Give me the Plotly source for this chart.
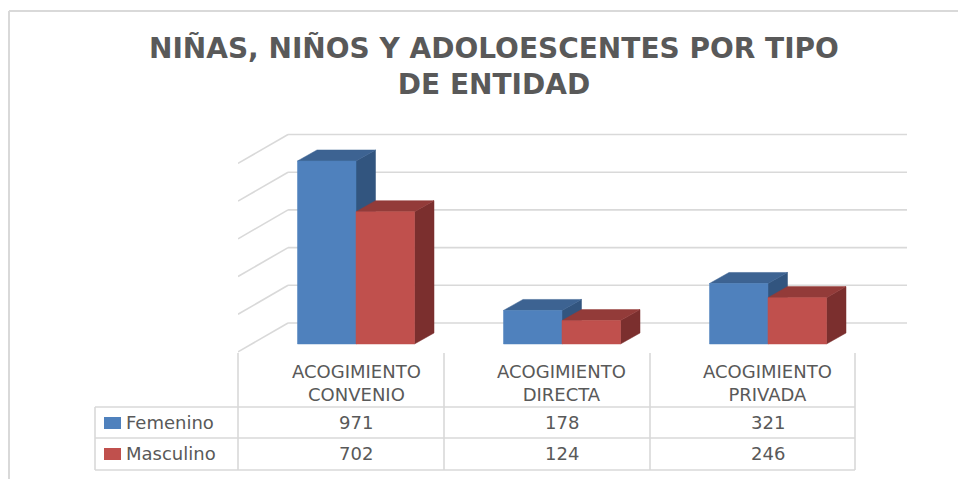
import plotly.graph_objects as go

# ---------------- data ----------------
categories = ["ACOGIMIENTO<br>CONVENIO", "ACOGIMIENTO<br>DIRECTA", "ACOGIMIENTO<br>PRIVADA"]
series_names = ["Femenino", "Masculino"]
femenino = [971, 178, 321]
masculino = [702, 124, 246]
grid_values = [0, 200, 400, 600, 800, 1000]
title_text = "NIÑAS, NIÑOS Y ADOLOESCENTES POR TIPO<br>DE ENTIDAD"

# ---------------- style ----------------
W, H = 966, 479
OFF = 8                      # page body margin
FW, FH = W - OFF, H - OFF    # figure size
front_cols = ["#4F81BD", "#C0504D"]
top_cols = ["#3D6392", "#933B39"]
side_cols = ["#32557F", "#7B2F2E"]
grid_col = "#D9D9D9"
text_col = "#595959"
TFONT = "DejaVu Sans"
FONT = "DejaVu Sans"

bar_w = 0.284          # bar width in category units
dx = 0.0947            # depth offset (x, category units)
dy = 58.4              # depth offset (y, value units)
wall_dx = 0.243        # wall depth in category units
wall_back = 111.4      # back wall baseline in value units
wall_front = -42.0     # front edge of side wall in value units
x_left, x_right = -0.5728, 2.6748
y_lo, y_hi = -58.4, 1188.4

fig = go.Figure()

for g in grid_values:
    fig.add_trace(go.Scatter(x=[x_left + wall_dx, x_right], y=[wall_back + g, wall_back + g],
                             mode="lines", line=dict(color=grid_col, width=1.6),
                             hoverinfo="skip", showlegend=False))
    fig.add_trace(go.Scatter(x=[x_left, x_left + wall_dx], y=[wall_front + g, wall_back + g],
                             mode="lines", line=dict(color=grid_col, width=1.6),
                             hoverinfo="skip", showlegend=False))

def poly(xs, ys, col):
    fig.add_trace(go.Scatter(x=xs + [xs[0]], y=ys + [ys[0]], mode="lines", fill="toself",
                             fillcolor=col, line=dict(color=col, width=0.5),
                             hoverinfo="skip", showlegend=False))

series = [femenino, masculino]
for i in range(len(categories)):
    for s, vals in enumerate(series):
        v = vals[i]
        xl = i + (s - 1) * bar_w
        xr = xl + bar_w
        poly([xr, xr + dx, xr + dx, xr], [0, dy, v + dy, v], side_cols[s])
        poly([xl, xr, xr + dx, xl + dx], [v, v, v + dy, v + dy], top_cols[s])
        poly([xl, xr, xr, xl], [0, 0, v, v], front_cols[s])

# ---------------- layout ----------------
shapes = []
line = dict(color=grid_col, width=2)
shapes.append(dict(type="line", xref="x2", yref="y2", x0=9, y0=479, x1=9, y1=11, line=line))
shapes.append(dict(type="line", xref="x2", yref="y2", x0=9, y0=11, x1=966, y1=11, line=line))
tline = dict(color=grid_col, width=1.6)
for xv in [238, 444, 650, 855]:
    shapes.append(dict(type="line", xref="x2", yref="y2", x0=xv, y0=353, x1=xv, y1=470, line=tline))
shapes.append(dict(type="line", xref="x2", yref="y2", x0=95, y0=407, x1=95, y1=470, line=tline))
for yv in [407, 438, 470]:
    shapes.append(dict(type="line", xref="x2", yref="y2", x0=95, y0=yv, x1=855, y1=yv, line=tline))
for s, (y0, y1) in enumerate([(417, 429), (448, 460)]):
    shapes.append(dict(type="rect", xref="x2", yref="y2", x0=104, y0=y0, x1=121, y1=y1,
                       fillcolor=front_cols[s], line=dict(width=0)))

annotations = []
annotations.append(dict(xref="x2", yref="y2", x=494, y=66, text="<b>" + title_text + "</b>",
                        showarrow=False, font=dict(family=TFONT, size=28, color=text_col),
                        xanchor="center", yanchor="middle", align="center"))
for i, c in enumerate(categories):
    annotations.append(dict(xref="x", yref="y2", x=i, y=383, text=c, showarrow=False,
                            font=dict(family=FONT, size=18, color=text_col),
                            xanchor="center", yanchor="middle", align="center"))
    for s, vals in enumerate(series):
        annotations.append(dict(xref="x", yref="y2", x=i, y=[422, 453][s], text=str(vals[i]),
                                showarrow=False, font=dict(family=FONT, size=18, color=text_col),
                                xanchor="center", yanchor="middle"))
for s, n in enumerate(series_names):
    annotations.append(dict(xref="x2", yref="y2", x=124, y=[422, 453][s], text=n, showarrow=False,
                            font=dict(family=FONT, size=18, color=text_col),
                            xanchor="left", yanchor="middle"))

fig.update_layout(
    width=FW, height=FH, margin=dict(l=0, r=0, t=0, b=0),
    paper_bgcolor="white", plot_bgcolor="rgba(0,0,0,0)",
    showlegend=False,
    xaxis=dict(domain=[(238 - OFF) / FW, (907 - OFF) / FW], range=[x_left, x_right],
               visible=False, fixedrange=True),
    yaxis=dict(domain=[(H - 355) / FH, (H - 120) / FH], range=[y_lo, y_hi],
               visible=False, fixedrange=True),
    xaxis2=dict(domain=[0, 1], range=[OFF, W], visible=False, anchor="y2"),
    yaxis2=dict(domain=[0, 1], range=[H, OFF], visible=False, anchor="x2"),
    shapes=shapes, annotations=annotations,
)

fig.write_html("out.html")
